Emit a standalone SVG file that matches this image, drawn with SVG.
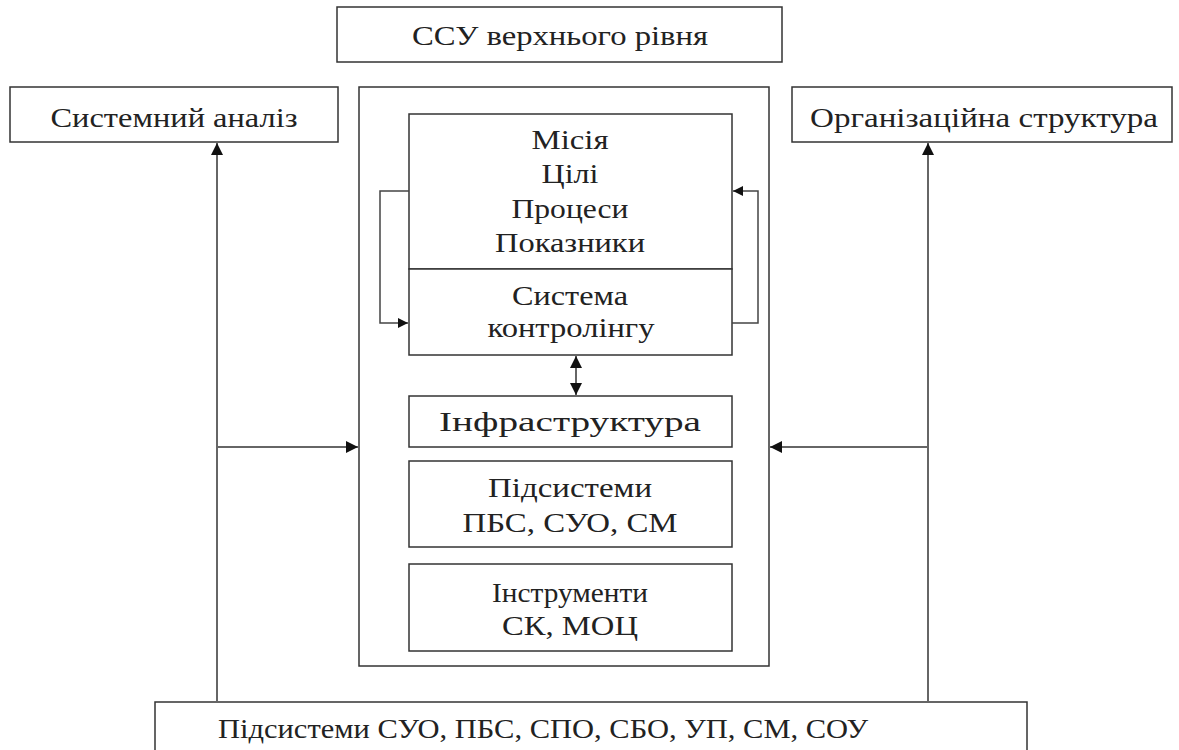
<svg xmlns="http://www.w3.org/2000/svg" width="1179" height="750" viewBox="0 0 1179 750">
<defs>
<style>
.box{fill:#fff;stroke:#333;stroke-width:1.5}
.t{font-family:"Liberation Serif","Times New Roman",serif;font-size:28px;fill:#222;text-anchor:middle}
.ln{fill:none;stroke:#444;stroke-width:1.5}
.gl{fill:none;stroke:#666;stroke-width:2}
</style>
<marker id="ah" viewBox="0 0 10 10" refX="10" refY="5" markerWidth="10" markerHeight="10" markerUnits="userSpaceOnUse" orient="auto-start-reverse">
<path d="M0,0 L10,5 L0,10 z" fill="#111"/>
</marker>
<marker id="ah2" viewBox="0 0 10 10" refX="10" refY="5" markerWidth="14" markerHeight="12" markerUnits="userSpaceOnUse" orient="auto-start-reverse">
<path d="M0,0 L10,5 L0,10 z" fill="#111"/>
</marker>
</defs>
<rect width="1179" height="750" fill="#fff"/>
<g id="top">
<rect class="box" x="337" y="7" width="445" height="55"/>
<text class="t" x="560" y="45" textLength="296" lengthAdjust="spacingAndGlyphs">ССУ верхнього рівня</text>
</g>
<g id="container">
<rect class="box" x="359" y="87" width="410" height="579"/>
</g>
<g id="sysanalysis">
<rect class="box" x="10" y="87" width="328" height="55"/>
<text class="t" x="174" y="127" textLength="247" lengthAdjust="spacingAndGlyphs">Системний аналіз</text>
</g>
<g id="orgstructure">
<rect class="box" x="792" y="87" width="380" height="55"/>
<text class="t" x="984" y="127" textLength="348" lengthAdjust="spacingAndGlyphs">Організаційна структура</text>
</g>
<g id="mission">
<rect class="box" x="409" y="114" width="323" height="155"/>
<text class="t" x="570" y="149" textLength="77" lengthAdjust="spacingAndGlyphs">Місія</text>
<text class="t" x="570" y="183" textLength="57" lengthAdjust="spacingAndGlyphs">Цілі</text>
<text class="t" x="570" y="218" textLength="117" lengthAdjust="spacingAndGlyphs">Процеси</text>
<text class="t" x="570" y="252" textLength="150" lengthAdjust="spacingAndGlyphs">Показники</text>
</g>
<g id="controlling">
<rect class="box" x="409" y="269" width="323" height="86"/>
<text class="t" x="570" y="305" textLength="116" lengthAdjust="spacingAndGlyphs">Система</text>
<text class="t" x="571" y="337" textLength="167" lengthAdjust="spacingAndGlyphs">контролінгу</text>
</g>
<g id="infra">
<rect class="box" x="409" y="396" width="323" height="51"/>
<text class="t" x="570" y="431" textLength="262" lengthAdjust="spacingAndGlyphs">Інфраструктура</text>
</g>
<g id="subsystems">
<rect class="box" x="409" y="461" width="323" height="86"/>
<text class="t" x="570" y="497" textLength="164" lengthAdjust="spacingAndGlyphs">Підсистеми</text>
<text class="t" x="570" y="532" textLength="215" lengthAdjust="spacingAndGlyphs">ПБС, СУО, СМ</text>
</g>
<g id="tools">
<rect class="box" x="409" y="564" width="323" height="87"/>
<text class="t" x="570" y="602" textLength="156" lengthAdjust="spacingAndGlyphs">Інструменти</text>
<text class="t" x="570" y="635" textLength="136" lengthAdjust="spacingAndGlyphs">СК, МОЦ</text>
</g>
<g id="bottom">
<rect class="box" x="155" y="702" width="872" height="60"/>
<text class="t" x="543" y="738" textLength="650" lengthAdjust="spacingAndGlyphs">Підсистеми СУО, ПБС, СПО, СБО, УП, СМ, СОУ</text>
</g>
<g id="connectors">
<path class="ln" d="M409,191 H380 V323 H408" marker-end="url(#ah)"/>
<path class="ln" d="M732,323 H758 V191 H733" marker-end="url(#ah)"/>
<path class="gl" d="M576,356 V395" marker-start="url(#ah2)" marker-end="url(#ah2)"/>
<path class="gl" d="M217,702 V143" marker-end="url(#ah2)"/>
<path class="gl" d="M217,447 H358" marker-end="url(#ah2)"/>
<path class="gl" d="M928,702 V143" marker-end="url(#ah2)"/>
<path class="gl" d="M928,447 H770" marker-end="url(#ah2)"/>
</g>
</svg>
